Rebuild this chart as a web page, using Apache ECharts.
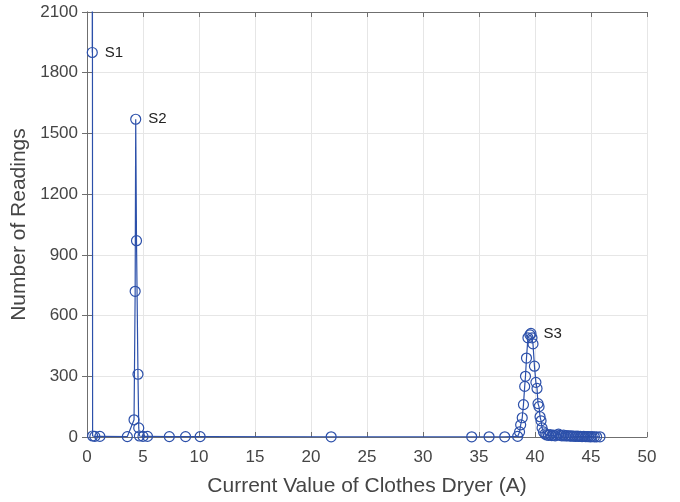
<!DOCTYPE html>
<html>
<head>
<meta charset="utf-8">
<script src="https://cdn.jsdelivr.net/npm/echarts@6/dist/echarts.min.js"></script>
<style>
  html, body { margin: 0; padding: 0; background: #fff; }
  #chart { width: 680px; height: 502px; }
</style>
</head>
<body>
<div id="chart"></div>
<script>
// current value (A) and number of readings, sorted by current
const currents = [
  0.47, 0.48, 0.5, 0.7, 1.15,
  3.6, 4.2, 4.3, 4.35, 4.42, 4.55, 4.62, 4.68, 5.0, 5.4,
  7.35, 8.8, 10.1, 21.8, 34.35, 35.9, 37.3,
  38.45, 38.62, 38.72, 38.86, 38.97, 39.08, 39.15, 39.24, 39.37, 39.55, 39.64,
  39.73, 39.82, 39.95, 40.08, 40.18, 40.27, 40.36, 40.45, 40.54, 40.63, 40.76, 40.9,
  41.05, 41.2, 41.35, 41.5, 41.65, 41.8, 41.95, 42.1, 42.25, 42.4, 42.55, 42.7,
  42.85, 43.0, 43.15, 43.3, 43.45, 43.6, 43.75, 43.9, 44.05, 44.2, 44.35, 44.5,
  44.65, 44.8, 44.95, 45.1, 45.3, 45.5, 45.8
];
const readings = [
  1900, 3000, 5, 3, 3,
  2, 85, 720, 1570, 970, 310, 45, 5, 3, 3,
  2, 2, 2, 1, 1, 1, 1,
  3, 25, 60, 95, 160, 250, 300, 390, 490, 505, 512,
  490, 460, 350, 270, 240, 165, 150, 100, 80, 45, 25, 15,
  10, 8, 12, 7, 9, 6, 10, 14, 8, 6, 9, 5,
  7, 5, 6, 4, 5, 3, 4, 3, 3, 2, 3, 2,
  2, 2, 1, 2, 1, 1, 1
];
// annotated peaks: index into the arrays above
const peakIndex = [0, 8, 32];
const peakNames = ["S1", "S2", "S3"];

const xTicks = { min: 0, max: 50, interval: 5 };
const yTicks = { min: 0, max: 2100, interval: 300 };

const lineColor = "#2c50aa";
const axisColor = "#6f6f6f";
const textColor = "#454545";
const font = "Liberation Sans, Arial, Helvetica, sans-serif";

const seriesData = currents.map((c, i) => {
  const item = { value: [c, readings[i]] };
  const k = peakIndex.indexOf(i);
  if (k >= 0) {
    item.label = {
      show: true,
      formatter: peakNames[k],
      position: "right",
      distance: 7,
      color: "#222",
      fontSize: 15,
      fontFamily: font,
    };
  }
  return item;
});

const chart = echarts.init(document.getElementById("chart"));

const baseX = {
  type: "value",
  min: xTicks.min,
  max: xTicks.max,
  interval: xTicks.interval,
  axisLine: { show: true, onZero: false, lineStyle: { color: axisColor, width: 1 } },
  axisTick: { show: true, inside: true, length: 5, lineStyle: { color: axisColor } },
};
const baseY = {
  type: "value",
  min: yTicks.min,
  max: yTicks.max,
  interval: yTicks.interval,
  axisLine: { show: true, lineStyle: { color: axisColor, width: 1 } },
  axisTick: { show: true, inside: true, length: 5, lineStyle: { color: axisColor } },
};

const option = {
  animation: false,
  backgroundColor: "#fff",
  grid: {
    left: 87,
    right: 33,
    top: 12,
    bottom: 65,
    containLabel: false,
  },
  xAxis: [
    Object.assign({}, baseX, {
      position: "bottom",
      name: "Current Value of Clothes Dryer (A)",
      nameLocation: "middle",
      nameGap: 39,
      nameTextStyle: { color: textColor, fontSize: 21, fontFamily: font },
      axisLabel: { color: textColor, fontSize: 17, fontFamily: font, margin: 12 },
      splitLine: { show: true, lineStyle: { color: "#e6e6e6", width: 1 } },
    }),
    Object.assign({}, baseX, {
      position: "top",
      axisLabel: { show: false },
      splitLine: { show: false },
    }),
  ],
  yAxis: [
    Object.assign({}, baseY, {
      position: "left",
      name: "Number of Readings",
      nameLocation: "middle",
      nameGap: 53,
      nameTextStyle: { color: textColor, fontSize: 21, fontFamily: font },
      axisLabel: {
        color: textColor,
        fontSize: 17,
        fontFamily: font,
        margin: 9,
        formatter: (v) => String(v),
      },
      splitLine: { show: true, lineStyle: { color: "#e6e6e6", width: 1 } },
    }),
    Object.assign({}, baseY, {
      position: "right",
      axisLabel: { show: false },
      splitLine: { show: false },
    }),
  ],
  series: [
    {
      type: "line",
      xAxisIndex: 0,
      yAxisIndex: 0,
      data: seriesData,
      clip: true,
      symbol: "circle",
      symbolSize: 10,
      showAllSymbol: true,
      lineStyle: { color: lineColor, width: 1.2 },
      itemStyle: { color: "rgba(0,0,0,0)", borderColor: lineColor, borderWidth: 1.2 },
      emphasis: { disabled: true },
    },
  ],
};
chart.setOption(option);
</script>
</body>
</html>
